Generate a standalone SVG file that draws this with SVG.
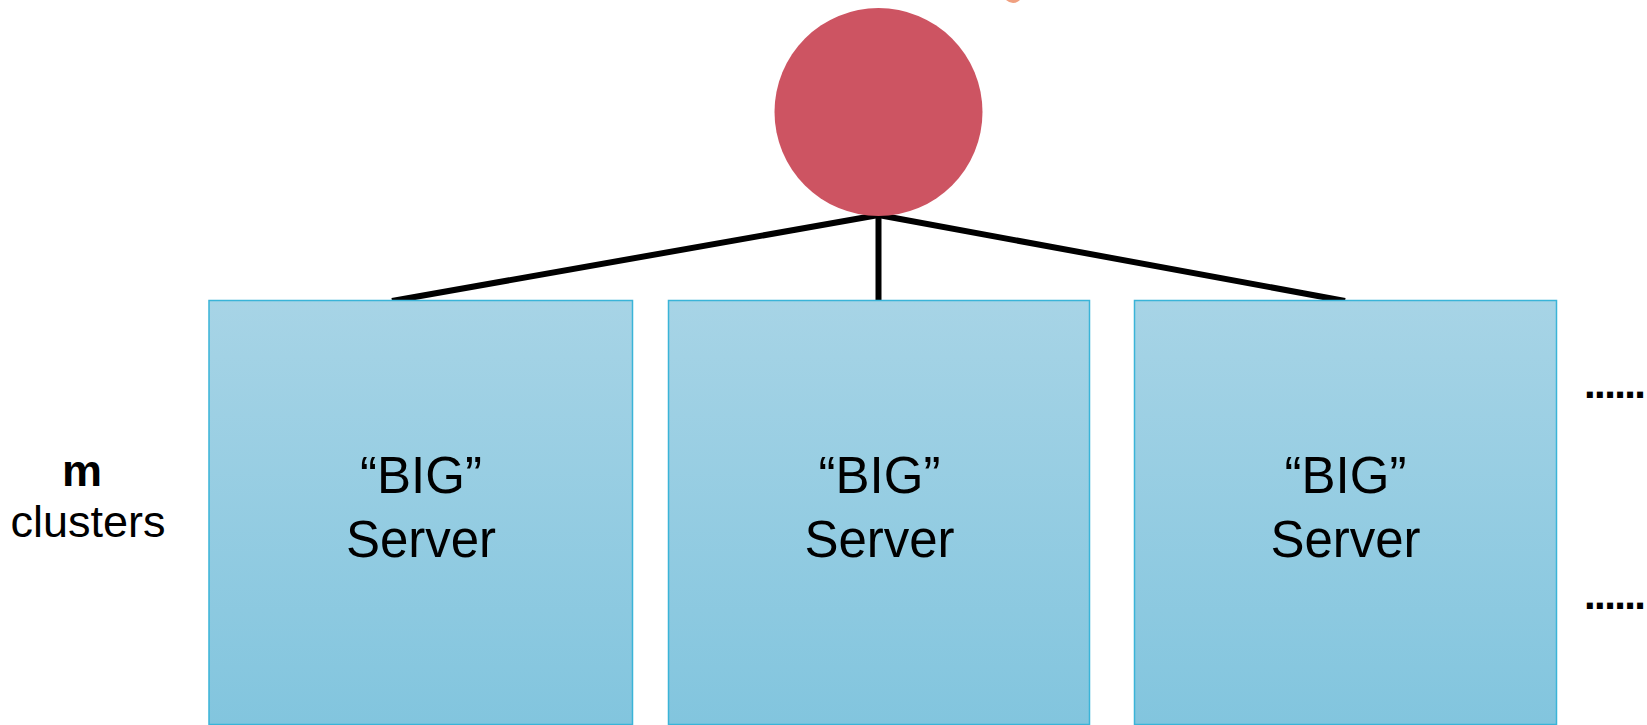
<svg xmlns="http://www.w3.org/2000/svg" width="1647" height="725" viewBox="0 0 1647 725">
<defs>
<linearGradient id="boxg" x1="0" y1="0" x2="0" y2="1">
<stop offset="0" stop-color="#A7D4E6"/>
<stop offset="1" stop-color="#82C5DE"/>
</linearGradient>
<style>
.box{fill:url(#boxg);stroke:#3AB4D8;stroke-width:1.5}
.lbl{font-family:"Liberation Sans",Arial,sans-serif;font-size:51px;fill:#000;text-anchor:middle}
.side{font-family:"Liberation Sans",Arial,sans-serif;font-size:45px;fill:#000;text-anchor:middle}
.dots{font-family:"Liberation Sans",Arial,sans-serif;font-size:42px;font-weight:bold;fill:#000}
.conn{stroke:#000;stroke-width:6;stroke-linecap:butt;fill:none}
</style>
</defs>
<rect width="1647" height="725" fill="#fff"/>
<path d="M1006,0 Q1013,6 1020,0 Z" fill="#F0A080"/>
<g id="connectors">
<line class="conn" x1="878.5" y1="215" x2="392" y2="301"/>
<line class="conn" x1="878.5" y1="215" x2="878.5" y2="300"/>
<line class="conn" x1="878.5" y1="215" x2="1345" y2="301"/>
</g>
<g id="root">
<circle cx="878.5" cy="112" r="104" fill="#CD5462"/>
</g>
<g id="server1">
<rect class="box" x="209" y="300.5" width="423.5" height="424"/>
<text class="lbl" x="421" y="493">“BIG”</text>
<text class="lbl" x="421" y="557">Server</text>
</g>
<g id="server2">
<rect class="box" x="668.5" y="300.5" width="421" height="424"/>
<text class="lbl" x="879.5" y="493">“BIG”</text>
<text class="lbl" x="879.5" y="557">Server</text>
</g>
<g id="server3">
<rect class="box" x="1134.5" y="300.5" width="422" height="424"/>
<text class="lbl" x="1345.5" y="493">“BIG”</text>
<text class="lbl" x="1345.5" y="557">Server</text>
</g>
<g id="clusters-label">
<text class="side" x="82" y="486" font-weight="bold">m</text>
<text class="side" x="88" y="537">clusters</text>
</g>
<g id="ellipsis">
<text class="dots" x="1584" y="398" textLength="62" lengthAdjust="spacing">......</text>
<text class="dots" x="1584" y="609" textLength="62" lengthAdjust="spacing">......</text>
</g>
</svg>
